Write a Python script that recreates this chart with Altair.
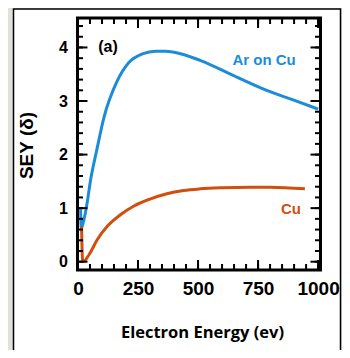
import altair as alt
import pandas as pd

# ---- data ----
ar_energy = [11, 13, 25, 36, 53, 78, 108, 164, 212, 268, 324, 365, 400, 508, 646, 786, 896, 1000]
ar_sey = [0.98, 0.62, 0.79, 1.04, 1.54, 2.08, 2.69, 3.38, 3.72, 3.88, 3.93, 3.93, 3.91, 3.76, 3.48, 3.20, 3.02, 2.85]

cu_energy = [15, 19, 24, 46, 80, 122, 178, 233, 300, 370, 440, 508, 600, 717, 800, 945]
cu_sey = [0.66, 0.04, 0.01, 0.13, 0.41, 0.66, 0.88, 1.04, 1.17, 1.27, 1.33, 1.36, 1.38, 1.39, 1.39, 1.36]

series_names = ["Ar on Cu", "Cu"]
series_colors = ["#1a8cd8", "#d04e0e"]

x_major = [0, 250, 500, 750, 1000]
x_minor = [0, 50, 100, 150, 200, 250, 300, 350, 400, 450, 500, 550, 600, 650, 700,
           750, 800, 850, 900, 950, 1000]
y_major = [0, 1, 2, 3, 4]
y_minor = [0, 0.2, 0.4, 0.6, 0.8, 1, 1.2, 1.4, 1.6, 1.8, 2, 2.2, 2.4, 2.6, 2.8, 3,
           3.2, 3.4, 3.6, 3.8, 4, 4.2, 4.4]

ann_text = ["(a)", "Ar on Cu", "Cu"]
ann_energy = [125, 775, 887]
ann_sey = [4.01, 3.76, 0.99]
ann_color = ["#000000", series_colors[0], series_colors[1]]
ann_size = [16, 15, 15]

# ---- build tables ----
rows = []
for i, (e, s) in enumerate(zip(ar_energy, ar_sey)):
    rows.append({"series": series_names[0], "energy": e, "sey": s, "idx": i})
for i, (e, s) in enumerate(zip(cu_energy, cu_sey)):
    rows.append({"series": series_names[1], "energy": e, "sey": s, "idx": i})
df = pd.DataFrame(rows)

ann = pd.DataFrame({"text": ann_text, "energy": ann_energy, "sey": ann_sey,
                    "color": ann_color, "size": ann_size})

W, H = 243, 252
xs = alt.Scale(domain=[-2, 1010], nice=False, zero=False)
ys = alt.Scale(domain=[-0.155, 4.55], nice=False, zero=False)

x_axis = alt.Axis(
    values=x_major, ticks=False, domain=False, grid=False, labelFlush=False,
    labelOverlap=False, format="d", labelFont="Liberation Sans", labelFontSize=19,
    labelFontWeight="bold", labelColor="black", labelPadding=9,
    title="Electron Energy (ev)", titleFont="Open Sans", titleFontSize=16.5,
    titleFontWeight="bold", titleColor="black", titleX=124.5, titleY=62,
    titleBaseline="middle", titleAlign="center", zindex=2)
y_axis = alt.Axis(
    values=y_major, ticks=False, domain=False, grid=False, labelFlush=False,
    format="d", labelFont="Liberation Sans", labelFontSize=16,
    labelFontWeight="bold", labelColor="black", labelPadding=10,
    title="SEY (δ)", titleFont="Liberation Sans", titleFontSize=19,
    titleFontWeight="bold", titleColor="black", titleX=-51, titleY=127,
    titleAngle=-90, titleBaseline="middle", titleAlign="center", zindex=2)

box = alt.Chart(alt.Data(values=[{"a": 1}])).mark_rect(
    fill="white", stroke="black", strokeWidth=1.5
).encode(x=alt.value(-64), x2=alt.value(263), y=alt.value(-9), y2=alt.value(345))

lines = alt.Chart(df).mark_line(strokeWidth=3, interpolate="monotone").encode(
    x=alt.X("energy:Q", scale=xs, axis=x_axis),
    y=alt.Y("sey:Q", scale=ys, axis=y_axis),
    color=alt.Color("series:N", scale=alt.Scale(domain=series_names, range=series_colors),
                    legend=None),
    order="idx:Q",
)

texts = alt.Chart(ann).mark_text(font="Liberation Sans", fontWeight="bold").encode(
    x=alt.X("energy:Q", scale=xs, axis=x_axis),
    y=alt.Y("sey:Q", scale=ys, axis=y_axis),
    text="text:N",
    color=alt.Color("color:N", scale=None),
    size=alt.Size("size:Q", scale=None, legend=None),
)

xmaj_df = pd.DataFrame({"v": x_major})
xmin_df = pd.DataFrame({"v": x_minor})
ymaj_df = pd.DataFrame({"v": y_major})
ymin_df = pd.DataFrame({"v": y_minor})

def xticks(data, length):
    bottom = alt.Chart(data).mark_rule(color="black", strokeWidth=2).encode(
        x=alt.X("v:Q", scale=xs, axis=x_axis), y=alt.value(H), y2=alt.value(H - length))
    top = alt.Chart(data).mark_rule(color="black", strokeWidth=2).encode(
        x=alt.X("v:Q", scale=xs, axis=x_axis), y=alt.value(0), y2=alt.value(length))
    return [bottom, top]

def yticks(data, length):
    left = alt.Chart(data).mark_rule(color="black", strokeWidth=2).encode(
        y=alt.Y("v:Q", scale=ys, axis=y_axis), x=alt.value(0), x2=alt.value(length))
    right = alt.Chart(data).mark_rule(color="black", strokeWidth=2).encode(
        y=alt.Y("v:Q", scale=ys, axis=y_axis), x=alt.value(W), x2=alt.value(W - length))
    return [left, right]

frame = alt.Chart(alt.Data(values=[{"a": 1}])).mark_rect(
    filled=False, stroke="black", strokeWidth=3
).encode(x=alt.value(0), x2=alt.value(W), y=alt.value(0), y2=alt.value(H))

layers = [box, lines, texts] + xticks(xmin_df, 6) + xticks(xmaj_df, 10) \
    + yticks(ymin_df, 5.5) + yticks(ymaj_df, 10) + [frame]

chart = alt.layer(*layers).properties(
    width=W, height=H,
    autosize=alt.AutoSizeParams(type="none"),
    padding={"left": 69.5, "top": 10, "right": 21.5, "bottom": 80},
    background="#e2e0da",
).configure_view(strokeWidth=0)

chart.save("out.html", embed_options={"renderer": "svg", "actions": False})
